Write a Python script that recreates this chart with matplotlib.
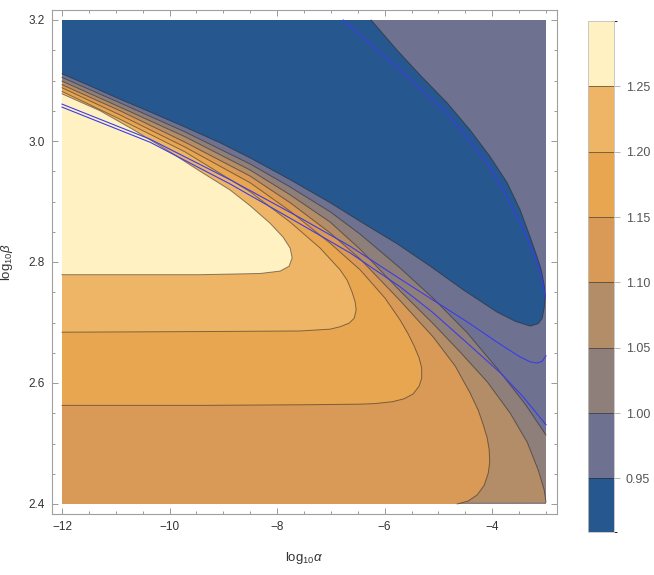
import numpy as np
import matplotlib as mpl
import matplotlib.pyplot as plt
from matplotlib.colors import ListedColormap, BoundaryNorm
from matplotlib.ticker import FormatStrFormatter

plt.rcParams['font.family'] = ['Liberation Sans', 'DejaVu Sans']
plt.rcParams['mathtext.fontset'] = 'custom'
plt.rcParams['mathtext.rm'] = 'Liberation Sans'
plt.rcParams['mathtext.it'] = 'Liberation Sans:italic'

# === contour levels and band colours (lowest band first) ===
levels = [0.95, 1.00, 1.05, 1.10, 1.15, 1.20, 1.25]
bar_bounds = [0.909] + levels + [1.30]
band_colors = ["#26578e", "#6e7290", "#8e7f7a", "#b38c68",
               "#d89a56", "#e9a650", "#eeb566", "#fff1c2"]

x_min, x_max = -12.0, -3.0
y_min, y_max = 2.4, 3.2

# === level curves: (log10 alpha, log10 beta) ===
c095_x = [-12.0, -11.479, -10.921, -10.363, -9.712, -9.060, -8.502, -7.758,
          -7.014, -6.400, -5.767, -5.153, -4.540, -3.907, -3.572, -3.293,
          -3.144, -3.070, -3.033, -3.014, -3.033, -3.088, -3.163, -3.293,
          -3.479, -3.721, -4.037, -4.409, -4.837, -5.340, -5.767, -6.251]
c095_y = [3.111, 3.091, 3.069, 3.048, 3.023, 2.997, 2.972, 2.936,
          2.898, 2.864, 2.830, 2.793, 2.754, 2.717, 2.702, 2.694,
          2.698, 2.707, 2.724, 2.744, 2.762, 2.787, 2.808, 2.841,
          2.886, 2.931, 2.974, 3.018, 3.063, 3.109, 3.150, 3.200]

c100_x = [-12.0, -10.921, -9.712, -8.502, -7.758, -7.014, -6.456, -5.712,
          -5.098, -4.465, -3.851, -3.386, -3.0]
c100_y = [3.105, 3.063, 3.015, 2.962, 2.924, 2.883, 2.846, 2.790,
          2.740, 2.683, 2.618, 2.565, 2.514]

c105_x = [-12.0, -10.921, -9.712, -8.502, -7.758, -7.014, -6.456, -5.712,
          -5.098, -4.595, -4.093, -3.665, -3.349, -3.144, -3.033, -3.0]
c105_y = [3.099, 3.056, 3.007, 2.952, 2.911, 2.866, 2.821, 2.752,
          2.698, 2.651, 2.602, 2.550, 2.502, 2.456, 2.423, 2.403]

c110_x = [-12.0, -10.921, -9.712, -8.502, -7.758, -7.014, -6.456, -5.712,
          -5.098, -4.688, -4.409, -4.260, -4.167, -4.093, -4.056, -4.047,
          -4.074, -4.149, -4.279, -4.447, -4.651]
c110_y = [3.093, 3.050, 2.998, 2.942, 2.898, 2.848, 2.805, 2.736,
          2.676, 2.628, 2.583, 2.555, 2.531, 2.509, 2.489, 2.469,
          2.451, 2.431, 2.415, 2.405, 2.400]

c115_x = [-12.0, -10.921, -9.712, -8.502, -7.758, -7.014, -6.456, -5.991,
          -5.712, -5.563, -5.451, -5.358, -5.312, -5.312, -5.358, -5.470,
          -5.637, -5.860, -6.177, -6.456, -7.572, -9.433, -12.0]
c115_y = [3.088, 3.043, 2.990, 2.931, 2.884, 2.831, 2.787, 2.740,
          2.704, 2.681, 2.661, 2.641, 2.625, 2.608, 2.595, 2.582,
          2.574, 2.569, 2.566, 2.565, 2.564, 2.563, 2.563]

c120_x = [-12.0, -10.921, -9.712, -8.502, -7.758, -7.200, -6.828, -6.698,
          -6.605, -6.549, -6.530, -6.567, -6.660, -6.828, -7.014, -7.572,
          -9.433, -12.0]
c120_y = [3.082, 3.036, 2.982, 2.916, 2.866, 2.823, 2.787, 2.770,
          2.750, 2.734, 2.721, 2.707, 2.699, 2.693, 2.689, 2.686,
          2.685, 2.684]

c125_x = [-12.0, -11.293, -10.679, -10.047, -9.433, -8.874, -8.502, -8.130,
          -7.888, -7.758, -7.721, -7.777, -7.944, -8.316, -9.433, -12.0]
c125_y = [3.078, 3.050, 3.019, 2.985, 2.950, 2.919, 2.893, 2.864,
          2.841, 2.823, 2.807, 2.793, 2.785, 2.781, 2.779, 2.779]

# === extra blue curves ===
blue1_x = [-6.772, -6.270, -5.767, -5.302, -4.837, -4.465, -4.093, -3.795,
           -3.535, -3.330, -3.163, -3.070, -3.014]
blue1_y = [3.200, 3.160, 3.122, 3.084, 3.046, 3.005, 2.964, 2.919,
           2.874, 2.836, 2.798, 2.770, 2.742]

blue2_x = [-12.0, -10.363, -8.874, -7.572, -6.642, -5.712, -5.098, -4.465,
           -3.851, -3.479, -3.293, -3.163, -3.070, -3.0]
blue2_y = [3.061, 3.003, 2.936, 2.873, 2.826, 2.772, 2.737, 2.701,
           2.664, 2.643, 2.635, 2.633, 2.636, 2.645]

blue3_x = [-12.0, -10.363, -8.874, -7.572, -6.642, -5.712, -5.098, -4.465,
           -3.851, -3.423, -3.0]
blue3_y = [3.056, 2.998, 2.929, 2.863, 2.815, 2.759, 2.716, 2.666,
           2.617, 2.577, 2.531]

# === Plot ===
fig = plt.figure(figsize=(6.54, 5.75), dpi=100)
ax = fig.add_axes([52 / 654, 1 - 514 / 575, 505 / 654, 504 / 575])

# bands, painted from the lowest level upward
ax.fill([x_min, x_max, x_max, x_min], [y_min, y_min, y_max, y_max],
        color=band_colors[1], lw=0, zorder=1)
regions = [
    (c095_x + [x_min], c095_y + [y_max], band_colors[0]),
    (c100_x + [x_max, x_min], c100_y + [y_min, y_min], band_colors[2]),
    (c105_x + [x_min], c105_y + [y_min], band_colors[3]),
    (c110_x + [x_min], c110_y + [y_min], band_colors[4]),
    (c115_x, c115_y, band_colors[5]),
    (c120_x, c120_y, band_colors[6]),
    (c125_x, c125_y, band_colors[7]),
]
for xs, ys, col in regions:
    ax.fill(xs, ys, color=col, lw=0, zorder=1)

line_col = (0.15, 0.15, 0.15, 0.55)
for xs, ys in [(c095_x, c095_y), (c100_x, c100_y), (c105_x, c105_y),
               (c110_x, c110_y), (c115_x, c115_y), (c120_x, c120_y),
               (c125_x, c125_y)]:
    ax.plot(xs, ys, color=line_col, lw=0.7, zorder=2)

for xs, ys in [(blue1_x, blue1_y), (blue2_x, blue2_y), (blue3_x, blue3_y)]:
    ax.plot(xs, ys, color="#3c3ce8", lw=0.8, zorder=3)

ax.set_xlim(x_min - 10 / 53.75, x_max + 11 / 53.75)
ax.set_ylim(y_min - 10 / 605, y_max + 10 / 605)
ax.set_xticks([-12, -10, -8, -6, -4])
ax.set_xticks(np.arange(-12, -2.99, 0.5), minor=True)
ax.set_yticks([2.4, 2.6, 2.8, 3.0, 3.2])
ax.set_yticks(np.arange(2.4, 3.201, 0.05), minor=True)
ax.yaxis.set_major_formatter(FormatStrFormatter('%.1f'))
ax.tick_params(which='both', direction='in', top=True, right=True,
               color='#999999', labelcolor='#333333', labelsize=8.5, width=0.7)
ax.tick_params(which='major', length=4.5, pad=5)
ax.tick_params(which='minor', length=2.3)
for s in ax.spines.values():
    s.set_color('#a0a0a0')
    s.set_linewidth(0.8)
ax.set_xlabel(r'$\mathrm{log}_{10}\alpha$', fontsize=9.5, color='#333333', labelpad=12)
ax.set_ylabel(r'$\mathrm{log}_{10}\beta$', fontsize=9.5, color='#333333', labelpad=10)

# === bar legend ===
cax = fig.add_axes([588 / 654, 1 - 532 / 575, 26 / 654, 511 / 575])
cmap = ListedColormap(band_colors)
norm = BoundaryNorm(bar_bounds, cmap.N)
cb = mpl.colorbar.ColorbarBase(cax, cmap=cmap, norm=norm, boundaries=bar_bounds,
                               spacing='proportional', ticks=levels, format='%.2f')
cb.outline.set_edgecolor('#c0c0c0')
cb.outline.set_linewidth(0.6)
for lv in levels:
    cax.axhline(lv, color=line_col, lw=0.7)
cax.tick_params(length=4.5, width=0.6, color='#aaaaaa', labelsize=9,
                labelcolor='#555555', pad=4)

fig.savefig("out.png", dpi=100)
